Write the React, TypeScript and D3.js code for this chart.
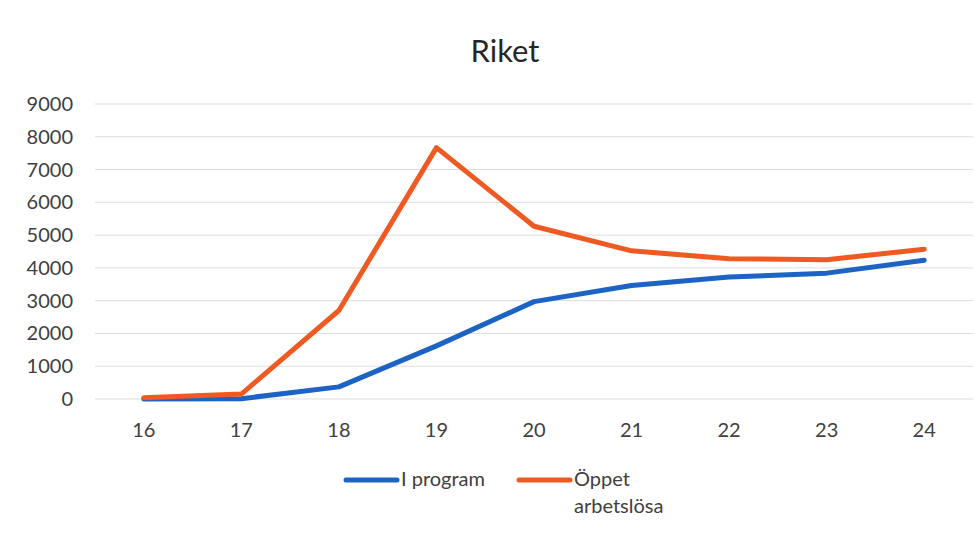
import React, { useEffect, useRef } from 'react';
import * as d3 from 'd3';

const ages = ['16', '17', '18', '19', '20', '21', '22', '23', '24'];
const iProgram = [0, 10, 370, 1620, 2970, 3460, 3720, 3840, 4230];
const oppetArbetslosa = [40, 150, 2700, 7670, 5270, 4520, 4280, 4250, 4570];
const yTicks = [0, 1000, 2000, 3000, 4000, 5000, 6000, 7000, 8000, 9000];

const series = [
  { name: 'I program', values: iProgram, color: '#1c63c4' },
  { name: 'Öppet arbetslösa', values: oppetArbetslosa, color: '#ee5a22' },
];

const width = 975;
const height = 537;
const font = 'Lato, "Open Sans", sans-serif';

const App: React.FC = () => {
  const svgRef = useRef<SVGSVGElement>(null);

  useEffect(() => {
    if (!svgRef.current) return;
    const svg = d3.select(svgRef.current);
    svg.selectAll('*').remove();

    const margin = { left: 95, right: 2, top: 104, bottom: 139 };

    svg.append('rect')
      .attr('width', width).attr('height', height)
      .attr('fill', '#fff');

    const x = d3.scalePoint<string>()
      .domain(ages)
      .range([margin.left, width - margin.right])
      .padding(0.5);

    const y = d3.scaleLinear()
      .domain([0, 9000])
      .range([height - margin.bottom + 1, margin.top]);

    // Gridlines
    svg.append('g')
      .selectAll('line')
      .data(yTicks)
      .enter().append('line')
      .attr('x1', margin.left)
      .attr('x2', width - margin.right)
      .attr('y1', d => y(d))
      .attr('y2', d => y(d))
      .attr('stroke', '#dcdde3')
      .attr('stroke-width', 1);

    // Y labels
    svg.append('g')
      .selectAll('text')
      .data(yTicks)
      .enter().append('text')
      .attr('x', 73)
      .attr('y', d => y(d))
      .attr('dy', '0.35em')
      .attr('text-anchor', 'end')
      .style('font-family', font)
      .style('font-size', '20px')
      .style('fill', '#404040')
      .text(d => String(d));

    // X labels
    svg.append('g')
      .selectAll('text')
      .data(ages)
      .enter().append('text')
      .attr('x', d => x(d) as number)
      .attr('y', 437)
      .attr('text-anchor', 'middle')
      .style('font-family', font)
      .style('font-size', '20px')
      .style('fill', '#404040')
      .text(d => d);

    const line = d3.line<number>()
      .x((_, i) => x(ages[i]) as number)
      .y(d => y(d));

    series.forEach(s => {
      svg.append('path')
        .datum(s.values)
        .attr('d', line)
        .attr('fill', 'none')
        .attr('stroke', s.color)
        .attr('stroke-width', 5)
        .attr('stroke-linejoin', 'round')
        .attr('stroke-linecap', 'round');
    });

    // Title
    svg.append('text')
      .attr('x', 505)
      .attr('y', 62)
      .attr('text-anchor', 'middle')
      .style('font-family', font)
      .style('font-size', '31px')
      .style('fill', '#262626')
      .text('Riket');

    // Legend
    const legend = [
      { x: 346, lines: ['I program'], color: series[0].color },
      { x: 519, lines: ['Öppet', 'arbetslösa'], color: series[1].color },
    ];
    legend.forEach(l => {
      svg.append('line')
        .attr('x1', l.x).attr('x2', l.x + 51)
        .attr('y1', 480).attr('y2', 480)
        .attr('stroke', l.color)
        .attr('stroke-width', 5)
        .attr('stroke-linecap', 'round');
      l.lines.forEach((t, i) => {
        svg.append('text')
          .attr('x', l.x + 55)
          .attr('y', 486 + i * 27)
          .style('font-family', font)
          .style('font-size', '20px')
          .style('fill', '#404040')
          .text(t);
      });
    });
  }, []);

  return (
    <div style={{ position: 'absolute', left: 0, top: 0 }}>
      <svg ref={svgRef} width={width} height={height} style={{ display: 'block' }} />
    </div>
  );
};

export default App;
